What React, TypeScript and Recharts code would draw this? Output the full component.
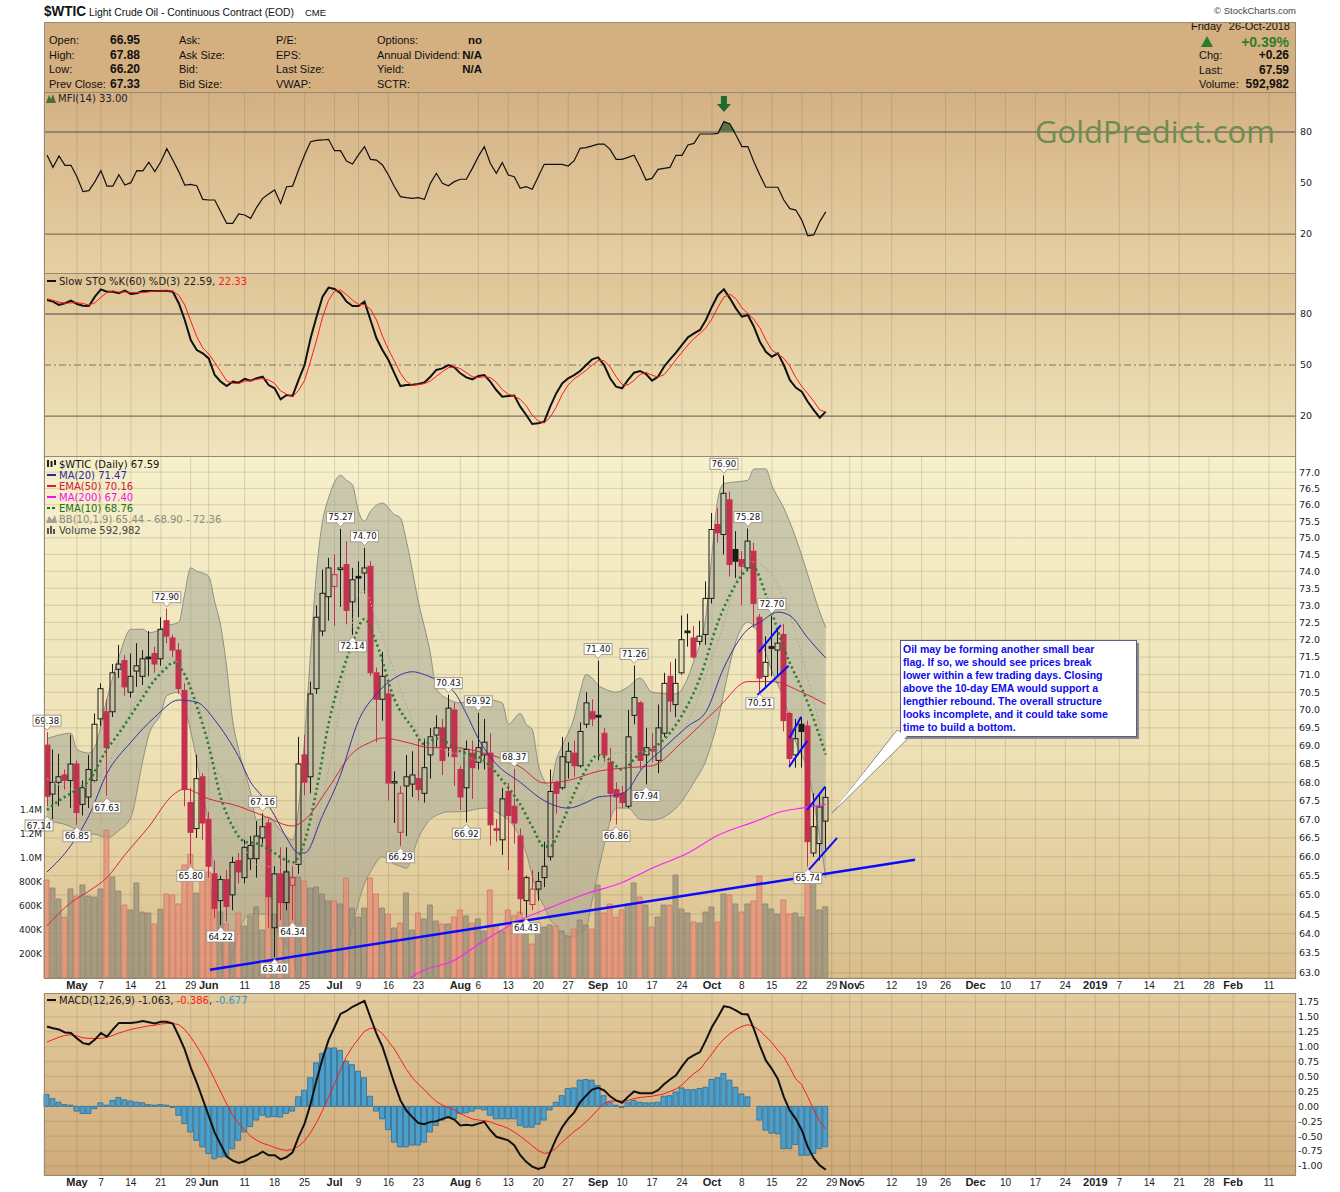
import React from "react";
import {
  ComposedChart,
  Bar,
  Line,
  Area,
  XAxis,
  YAxis,
  CartesianGrid,
  ReferenceLine,
  ReferenceDot,
  Cell,
} from "recharts";

// ---------- data (trading day index 0 = 24-Apr-2018) ----------
const OPEN = [
  69.02, 67.68, 68.0, 68.2, 68.05, 68.5, 67.4, 67.6, 68.05, 69.75,
  69.95, 69.95, 71.15, 71.4, 70.5, 71.1, 70.95, 71.5, 71.6, 71.45,
  72.55, 72.05, 71.7, 70.55, 67.45, 66.75, 68.15, 67.0, 65.55, 64.85,
  65.4, 65.0, 65.9, 65.45, 65.95, 65.95, 66.5, 66.9, 64.15, 65.55,
  64.8, 65.25, 65.8, 68.75, 68.15, 70.6, 72.25, 73.25, 73.55, 74.05,
  74.2, 73.1, 73.85, 73.95, 74.15, 71.05, 70.3, 70.45, 67.98, 66.65,
  67.9, 67.95, 68.1, 67.7, 68.75, 69.3, 69.5, 68.95, 70.0, 68.35,
  67.85, 68.8, 68.55, 68.75, 68.8, 66.75, 66.45, 67.75, 67.35, 66.55,
  64.85, 64.75, 65.15, 65.45, 66.0, 68.0, 67.85, 68.55, 68.8, 68.45,
  69.6, 69.95, 69.85, 69.35, 68.55, 67.8, 67.7, 67.35, 69.85, 70.2,
  68.75, 68.9, 68.6, 69.35, 70.95, 70.15, 71.05, 72.25, 72.05, 71.95,
  72.15, 73.2, 75.4, 75.1, 76.15, 74.65, 74.35, 74.1, 74.6, 72.65,
  70.95, 71.8, 71.7, 72.15, 69.9, 68.75, 69.6, 69.55, 66.1, 66.35,
  66.95,
];
const HIGH = [
  69.38, 68.9, 68.78, 68.35, 69.3, 68.6, 68.05, 68.75, 69.9, 70.75,
  70.3, 71.3, 71.85, 71.55, 71.6, 71.9, 71.7, 72.25, 71.8, 72.65,
  72.9, 72.15, 71.9, 70.75, 67.85, 68.75, 68.25, 67.2, 65.9, 65.5,
  65.65, 66.0, 66.1, 66.45, 66.55, 66.95, 67.16, 67.0, 65.75, 66.25,
  66.25, 65.75, 69.25, 69.3, 70.8, 73.0, 74.05, 74.4, 74.5, 75.27,
  74.9, 74.1, 74.3, 74.7, 74.3, 71.2, 71.65, 70.75, 68.3, 67.9,
  68.75, 68.85, 69.2, 69.2, 69.5, 69.85, 69.75, 70.43, 70.2, 68.45,
  69.15, 69.15, 69.92, 69.75, 69.35, 67.0, 67.85, 67.98, 68.37, 66.75,
  65.5, 65.65, 65.6, 66.4, 68.35, 68.05, 69.25, 69.1, 69.15, 69.65,
  70.5, 70.3, 71.4, 69.5, 68.95, 68.0, 67.9, 70.0, 71.26, 70.25,
  69.5, 69.35, 70.15, 71.05, 71.35, 71.45, 72.7, 72.75, 72.4, 72.55,
  73.7, 75.75, 75.9, 76.9, 76.4, 75.2, 74.6, 75.28, 74.85, 72.75,
  72.1, 72.7, 72.35, 72.45, 69.95, 69.75, 69.8, 69.7, 67.7, 67.65,
  67.88,
];
const LOW = [
  67.35, 67.0, 67.35, 67.8, 67.3, 66.85, 67.1, 67.3, 68.0, 69.55,
  67.63, 69.8, 70.9, 70.4, 70.35, 70.65, 70.7, 70.95, 71.05, 71.25,
  71.9, 71.5, 70.45, 67.35, 65.8, 66.5, 66.45, 65.45, 64.4, 64.22,
  64.3, 64.6, 65.3, 65.3, 65.65, 65.45, 66.35, 64.15, 63.4, 64.35,
  64.6, 64.34, 65.55, 67.65, 67.7, 70.45, 72.1, 72.55, 72.4, 72.95,
  72.45, 72.14, 72.65, 73.35, 70.95, 69.1, 69.7, 67.5, 66.9, 66.29,
  66.55, 67.6, 67.5, 67.45, 68.1, 68.95, 68.2, 68.7, 67.9, 67.25,
  66.92, 67.55, 68.35, 68.35, 66.3, 66.4, 66.05, 65.65, 66.35, 64.5,
  64.43, 64.6, 64.85, 65.2, 65.9, 67.15, 67.8, 68.1, 68.15, 68.4,
  69.5, 69.55, 68.6, 68.55, 66.95, 66.86, 67.3, 67.3, 69.6, 68.35,
  67.94, 68.55, 68.25, 69.25, 69.95, 69.8, 71.0, 71.8, 71.45, 71.85,
  71.85, 73.05, 74.85, 74.5, 73.85, 73.8, 73.0, 74.0, 72.35, 70.51,
  70.6, 70.95, 70.95, 69.4, 68.4, 68.4, 68.4, 65.74, 66.0, 65.9,
  66.2,
];
const CLOSE = [
  67.62, 68.0, 68.15, 68.05, 68.5, 67.18, 67.85, 68.35, 69.6, 70.6,
  68.95, 71.05, 71.3, 70.65, 70.95, 71.25, 71.45, 71.45, 71.3, 72.3,
  72.1, 71.7, 70.6, 67.8, 66.65, 68.1, 66.9, 65.75, 64.65, 65.4,
  64.7, 65.85, 65.6, 66.25, 66.3, 66.55, 66.8, 64.95, 65.55, 64.8,
  65.6, 65.45, 68.5, 68.0, 70.45, 72.65, 73.35, 74.1, 73.9, 74.1,
  72.85, 73.75, 73.8, 74.1, 71.05, 70.3, 70.95, 67.98, 68.02, 67.7,
  68.15, 68.2, 67.8, 68.4, 69.25, 69.5, 68.6, 70.05, 68.7, 67.6,
  68.9, 68.4, 68.95, 69.1, 66.85, 66.7, 67.55, 67.1, 66.9, 64.9,
  65.45, 65.15, 65.35, 65.75, 67.75, 67.7, 68.7, 68.85, 68.45, 69.4,
  70.2, 69.75, 69.8, 68.75, 67.7, 67.6, 67.45, 69.25, 70.35, 68.6,
  68.95, 68.85, 69.5, 70.75, 70.25, 70.75, 72.0, 72.2, 71.5, 72.1,
  73.2, 75.25, 75.15, 76.35, 74.2, 74.3, 74.15, 74.9, 73.05, 70.9,
  71.35, 71.75, 71.9, 69.7, 68.65, 69.2, 69.4, 66.4, 66.8, 67.33,
  67.59,
];
const FIRST_PREV_CLOSE = 68.64;

// volume in thousands of contracts
const VOLUME = [
  817, 750, 658, 508, 742, 683, 775, 683, 675, 742,
  1233, 842, 725, 608, 567, 792, 550, 542, 450, 575,
  700, 692, 617, 942, 1030, 708, 833, 883, 733, 550,
  450, 358, 542, 433, 517, 592, 400, 925, 533, 783,
  892, 842, 842, 808, 750, 758, 700, 642, 642, 617,
  833, 583, 508, 583, 833, 700, 583, 533, 417, 458,
  708, 400, 542, 492, 608, 475, 450, 450, 508, 567,
  517, 458, 492, 392, 733, 433, 392, 567, 517, 550,
  458, 283, 417, 425, 442, 433, 392, 350, 408, 483,
  442, 408, 775, 542, 617, 508, 567, 617, 792, 675,
  608, 425, 508, 608, 608, 858, 575, 542, 467, 458,
  550, 592, 467, 700, 692, 617, 550, 617, 642, 850,
  617, 575, 533, 650, 533, 542, 508, 850, 808, 567,
  593,
];

const MFI = [
  66.5, 59.2, 65.9, 60.4, 60.4, 53.7, 44.9, 45.5, 50.8, 57.3,
  48.2, 48.2, 54.9, 48.8, 50.2, 57.3, 57.1, 62.2, 56.7, 62.5,
  70.2, 63.5, 56.7, 48.8, 49.2, 48.4, 40.4, 40.0, 40.0, 33.1,
  26.3, 26.3, 31.8, 31.2, 29.2, 35.7, 41.0, 43.5, 45.9, 38.0,
  47.8, 48.2, 57.6, 66.5, 74.3, 75.1, 75.3, 75.7, 69.0, 69.0,
  62.9, 61.2, 66.5, 71.4, 63.9, 63.5, 60.6, 54.7, 47.8, 42.0,
  41.4, 41.0, 41.4, 40.4, 49.8, 55.7, 49.8, 48.4, 50.8, 52.2,
  52.2, 58.6, 65.5, 71.4, 61.6, 55.7, 62.0, 54.7, 53.7, 46.9,
  47.8, 46.3, 53.7, 61.0, 61.0, 61.0, 61.0, 60.0, 63.1, 70.4,
  70.8, 71.8, 72.9, 72.9, 69.8, 63.9, 63.9, 65.1, 66.3, 59.6,
  51.8, 52.7, 58.0, 58.6, 59.2, 66.3, 66.3, 72.4, 73.3, 78.8,
  78.8, 78.8, 79.2, 86.1, 84.7, 78.2, 71.4, 71.4, 62.5, 54.7,
  47.5, 47.5, 47.5, 40.0, 34.9, 34.1, 28.2, 19.0, 19.5, 27.3,
  33.0,
];

const STO_K = [
  88.2, 87.3, 85.3, 86.3, 87.8, 85.9, 84.9, 84.7, 90.2, 94.5,
  93.1, 93.1, 92.2, 93.7, 91.8, 92.2, 93.5, 93.5, 93.5, 93.5,
  93.7, 93.1, 86.3, 76.5, 64.7, 58.8, 56.9, 53.9, 44.1, 40.2,
  37.6, 40.2, 39.6, 41.8, 40.8, 42.2, 43.1, 38.2, 36.3, 29.8,
  32.4, 31.8, 41.2, 50.0, 65.7, 78.4, 90.2, 95.5, 94.7, 92.2,
  87.3, 84.7, 84.7, 87.3, 76.5, 65.7, 58.8, 52.9, 45.1, 37.6,
  38.2, 38.4, 38.8, 39.8, 43.1, 47.1, 48.0, 50.0, 48.6, 45.1,
  42.7, 41.6, 43.5, 44.1, 40.2, 35.3, 31.4, 31.8, 32.0, 25.5,
  20.6, 15.3, 15.7, 16.7, 25.5, 33.3, 39.2, 42.2, 44.1, 46.5,
  50.0, 53.3, 54.5, 50.0, 42.2, 37.3, 36.3, 41.2, 45.5, 46.5,
  44.7, 40.8, 43.1, 49.0, 53.3, 57.3, 61.8, 66.3, 68.6, 70.6,
  76.5, 84.3, 91.2, 94.5, 89.2, 83.3, 78.4, 79.4, 72.5, 63.7,
  57.8, 54.9, 56.9, 50.0, 41.2, 36.7, 34.3, 28.4, 23.5, 19.0,
  22.59,
];
const STO_D = [
  89, 88, 87, 86.3, 86.5, 86.7, 86.2, 85.2, 86.6, 89.8,
  92.6, 93.6, 92.8, 93, 92.6, 92.6, 92.5, 93, 93.5, 93.5,
  93.6, 93.4, 91, 85.3, 75.8, 66.7, 60.1, 56.5, 51.6, 46.1,
  40.6, 39.3, 39.1, 40.5, 40.7, 41.6, 42, 41.2, 39.2, 34.8,
  32.8, 31.3, 35.1, 41, 52.3, 64.7, 78.1, 88, 93.5, 94.1,
  91.4, 88.1, 85.6, 85.6, 82.8, 76.5, 67, 59.1, 52.3, 45.2,
  40.3, 38.1, 38.5, 39, 40.6, 43.3, 46.1, 48.4, 48.9, 47.9,
  45.5, 43.1, 42.6, 43.1, 42.6, 39.9, 35.6, 32.8, 31.7, 29.8,
  26, 20.5, 17.2, 15.9, 19.3, 25.2, 32.7, 38.2, 41.8, 44.3,
  46.9, 49.9, 52.6, 52.6, 48.9, 43.2, 38.6, 38.3, 41, 44.4,
  45.6, 44, 42.9, 44.3, 48.5, 53.2, 57.5, 61.8, 65.6, 68.5,
  71.9, 77.1, 84, 90, 91.6, 89, 83.6, 80.4, 76.8, 71.9,
  64.7, 58.8, 56.5, 53.9, 49.4, 42.6, 37.4, 33.1, 28.7, 23.6,
  22.33,
];

const MACD = [
  1.34, 1.31, 1.29, 1.24, 1.23, 1.14, 1.06, 1.04, 1.12, 1.23,
  1.17, 1.29, 1.4, 1.4, 1.4, 1.41, 1.43, 1.41, 1.39, 1.42,
  1.42, 1.39, 1.18, 0.95, 0.65, 0.4, 0.12, -0.16, -0.44, -0.64,
  -0.84, -0.91, -0.95, -0.92, -0.86, -0.82, -0.76, -0.82, -0.82, -0.89,
  -0.85, -0.77, -0.51, -0.29, 0.04, 0.44, 0.8, 1.11, 1.33, 1.55,
  1.6, 1.67, 1.72, 1.77, 1.49, 1.22, 1.0, 0.69, 0.38, 0.1,
  -0.07, -0.18, -0.28, -0.3, -0.26, -0.25, -0.21, -0.18, -0.22, -0.32,
  -0.31, -0.32, -0.29, -0.26, -0.4, -0.51, -0.54, -0.57, -0.65, -0.82,
  -0.93, -1.01, -1.05, -1.02, -0.77, -0.54, -0.35, -0.21, -0.1, 0.07,
  0.18, 0.28, 0.31, 0.27, 0.17, 0.1, 0.06, 0.16, 0.25, 0.22,
  0.22, 0.22, 0.27, 0.37, 0.45, 0.52, 0.67, 0.8, 0.86, 0.91,
  1.11, 1.33, 1.5, 1.68, 1.66, 1.61, 1.55, 1.54, 1.3, 1.02,
  0.77, 0.63, 0.46, 0.16, -0.07, -0.21, -0.4, -0.68, -0.87, -0.99,
  -1.063,
];
const MACD_SIGNAL = [
  1.08, 1.12, 1.16, 1.19, 1.2, 1.18, 1.15, 1.14, 1.14, 1.14,
  1.16, 1.19, 1.23, 1.26, 1.29, 1.31, 1.33, 1.35, 1.36, 1.38,
  1.39, 1.39, 1.37, 1.29, 1.16, 1.01, 0.84, 0.65, 0.45, 0.24,
  0.04, -0.15, -0.29, -0.4, -0.5, -0.57, -0.62, -0.65, -0.69, -0.72,
  -0.74, -0.72, -0.67, -0.58, -0.44, -0.27, -0.07, 0.15, 0.38, 0.61,
  0.84, 1.0, 1.13, 1.26, 1.31, 1.3, 1.22, 1.09, 0.96, 0.79,
  0.62, 0.48, 0.37, 0.28, 0.17, 0.08, 0.02, -0.02, -0.06, -0.12,
  -0.17, -0.21, -0.23, -0.24, -0.26, -0.3, -0.33, -0.37, -0.43, -0.5,
  -0.58, -0.66, -0.74, -0.79, -0.77, -0.7, -0.6, -0.51, -0.42, -0.35,
  -0.26, -0.16, -0.05, 0.05, 0.09, 0.09, 0.09, 0.1, 0.13, 0.15,
  0.16, 0.17, 0.19, 0.21, 0.25, 0.29, 0.36, 0.46, 0.55, 0.62,
  0.75, 0.88, 1.02, 1.13, 1.22, 1.29, 1.34, 1.37, 1.34, 1.27,
  1.17, 1.07, 0.94, 0.83, 0.65, 0.46, 0.36, 0.16, -0.06, -0.25,
  -0.386,
];
const MACD_HIST = [
  0.2, 0.13, 0.07, 0.03, 0.02, -0.08, -0.12, -0.12, -0.04, 0.06,
  0.02, 0.1, 0.15, 0.11, 0.09, 0.07, 0.06, 0.03, 0.02, 0.03,
  0.02, -0.02, -0.15, -0.29, -0.43, -0.57, -0.68, -0.79, -0.88, -0.85,
  -0.84, -0.71, -0.57, -0.43, -0.34, -0.23, -0.15, -0.18, -0.17, -0.18,
  -0.12, -0.08, 0.16, 0.27, 0.48, 0.73, 0.89, 0.98, 0.98, 0.94,
  0.76, 0.7, 0.59, 0.48, 0.17, -0.08, -0.21, -0.39, -0.6, -0.68,
  -0.68, -0.65, -0.65, -0.6, -0.43, -0.32, -0.23, -0.17, -0.21, -0.12,
  -0.11, -0.08, -0.04, -0.06, -0.15, -0.21, -0.21, -0.21, -0.21, -0.32,
  -0.35, -0.35, -0.3, -0.23, -0.06, 0.07, 0.18, 0.3, 0.31, 0.44,
  0.45, 0.44, 0.35, 0.18, 0.07, 0.02, -0.02, 0.07, 0.1, 0.07,
  0.06, 0.06, 0.07, 0.17, 0.18, 0.24, 0.31, 0.28, 0.28, 0.3,
  0.32, 0.45, 0.48, 0.55, 0.44, 0.32, 0.21, 0.16, 0.0, -0.23,
  -0.4, -0.45, -0.46, -0.71, -0.71, -0.64, -0.82, -0.82, -0.79, -0.71,
  -0.677,
];

// overlays sampled every few sessions: [day index, value]
const MA20 = [
  [0, 65.6], [4, 66.3], [7, 67.1], [10, 68.24], [14, 69.1], [18, 69.8], [22, 70.28],
  [25, 70.22], [28, 69.72], [30, 69.25], [32, 68.7], [34, 68.0], [36, 67.6], [38, 67.1],
  [40, 66.5], [42, 66.1], [43, 66.1], [46, 67.1], [49, 68.2], [52, 69.7], [55, 70.45],
  [58, 70.9], [61, 71.08], [63, 71.0], [66, 70.75], [68, 70.5], [70, 69.9], [72, 69.2],
  [75, 68.5], [79, 68.0], [83, 67.5], [87, 67.3], [90, 67.45], [92, 67.6], [95, 67.65],
  [97, 67.8], [99, 68.3], [103, 68.95], [107, 69.55], [110, 69.95], [113, 71.2],
  [117, 72.3], [119, 72.5], [122, 72.8], [124, 72.7], [127, 72.05], [130, 71.47],
];
const EMA50 = [
  [0, 64.2], [4, 64.8], [7, 65.1], [10, 65.45], [13, 66.05], [17, 66.8], [21, 67.65],
  [23, 67.82], [27, 67.55], [32, 67.35], [36, 67.1], [41, 66.82], [43, 66.98], [47, 67.85],
  [51, 68.8], [54, 69.1], [56, 69.22], [60, 69.1], [64, 68.95], [68, 68.95], [73, 68.8],
  [79, 68.42], [83, 67.98], [87, 68.05], [92, 68.3], [97, 68.4], [101, 68.45], [106, 69.1],
  [112, 70.05], [117, 70.8], [121, 70.8], [126, 70.5], [130, 70.16],
];
const MA200 = [
  [60, 62.8], [62, 63.0], [68, 63.32], [73, 63.82], [79, 64.35], [84, 64.67], [90, 65.03],
  [96, 65.32], [101, 65.7], [107, 66.1], [112, 66.57], [118, 66.93], [123, 67.22],
  [126, 67.3], [130, 67.4],
];
const EMA10 = [
  [0, 67.25], [2, 67.5], [5, 67.8], [7, 68.05], [10, 68.9], [12, 69.35], [15, 70.1],
  [18, 70.85], [20, 71.2], [21, 71.35], [23, 71.0], [25, 70.1], [27, 69.0], [29, 67.6],
  [31, 66.8], [33, 66.4], [35, 66.35], [37, 66.2], [40, 65.9], [41, 65.85], [43, 66.4],
  [45, 67.8], [47, 69.6], [49, 70.9], [51, 71.9], [53, 72.6], [55, 71.9], [58, 70.3],
  [61, 69.5], [63, 69.05], [65, 69.2], [69, 68.85], [73, 68.6], [76, 68.05], [79, 67.4],
  [81, 66.8], [83, 66.27], [84, 66.27], [86, 66.9], [88, 67.7], [90, 68.35], [92, 68.75],
  [94, 68.6], [96, 68.35], [99, 68.8], [102, 69.03], [106, 69.85], [109, 70.9],
  [112, 72.5], [114, 73.3], [117, 74.05], [118, 74.1], [120, 73.3], [123, 71.75],
  [127, 70.2], [130, 68.76],
];
// Bollinger band: [day index, lower, upper]
const BB = [
  [0, 66.95, 69.2], [2, 66.9, 69.3], [4, 66.8, 69.35], [5, 66.7, 68.9], [7, 66.6, 68.8],
  [8, 66.6, 68.97], [10, 66.5, 70.3], [12, 66.7, 71.5], [14, 67.05, 72.3], [16, 68.6, 72.3],
  [17, 69.3, 72.2], [19, 69.9, 72.3], [20, 70.4, 72.4], [22, 70.5, 72.5], [23, 70.1, 73.35],
  [24, 69.4, 74.1], [25, 68.6, 74.0], [26, 67.7, 73.95], [27, 66.8, 73.85], [28, 65.3, 73.1],
  [29, 63.6, 72.4], [30, 62.8, 71.2], [31, 63.4, 69.7], [32, 64.05, 68.9], [34, 64.5, 67.7],
  [35, 64.5, 66.98], [37, 64.5, 67.06], [39, 63.9, 66.7], [41, 63.4, 66.45], [42, 62.85, 67.3],
  [43, 62.5, 69.2], [44, 62.3, 71.6], [45, 62.2, 74.0], [46, 62.2, 75.5], [47, 62.2, 76.2],
  [49, 62.6, 76.9], [50, 63.5, 76.75], [51, 64.2, 76.6], [52, 64.8, 75.8], [53, 65.3, 75.5],
  [54, 65.6, 75.8], [56, 66.0, 76.05], [58, 65.8, 75.7], [59, 65.75, 75.6], [60, 65.7, 74.9],
  [62, 66.5, 73.1], [64, 67.0, 71.6], [65, 67.1, 70.6], [67, 67.2, 70.3], [69, 67.2, 70.2],
  [73, 67.3, 70.3], [76, 67.1, 70.2], [77, 66.98, 69.6], [79, 66.5, 69.9], [80, 66.1, 69.6],
  [81, 65.5, 69.45], [82, 65.0, 68.5], [83, 64.7, 68.05], [84, 64.35, 67.9], [85, 64.2, 68.6],
  [86, 64.0, 69.0], [88, 63.9, 69.8], [89, 64.0, 70.5], [90, 64.15, 71.0], [91, 64.85, 70.9],
  [92, 65.6, 70.7], [93, 66.3, 70.6], [95, 67.3, 70.5], [97, 67.3, 70.65], [99, 67.0, 70.9],
  [101, 66.98, 70.5], [105, 67.3, 70.45], [108, 68.0, 71.4], [110, 68.6, 72.7], [111, 69.1, 74.5],
  [112, 69.7, 76.2], [113, 70.5, 76.65], [115, 71.95, 76.7], [117, 72.5, 76.75], [118, 72.4, 77.1],
  [120, 71.6, 77.1], [121, 71.1, 76.6], [123, 70.3, 75.9], [125, 69.1, 75.0], [127, 68.3, 73.9],
  [129, 66.5, 72.8], [130, 65.44, 72.36],
];
const BB_MID = [
  [0, 68.1], [5, 67.8], [10, 68.45], [15, 70.3], [18, 70.9], [21, 71.45], [23, 71.0],
  [25, 70.3], [28, 68.5], [30, 67.8], [32, 66.7], [35, 65.8], [39, 65.72], [41, 65.8],
  [43, 65.9], [46, 67.6], [48, 69.2], [50, 71.3], [52, 73.3], [53, 73.4], [55, 72.55],
  [59, 70.6], [62, 69.35], [66, 68.9], [70, 68.7], [76, 68.15], [80, 67.0], [84, 66.45],
  [87, 66.8], [91, 68.05], [95, 68.8], [101, 68.85], [106, 69.4], [112, 71.95], [117, 74.3],
  [120, 74.1], [123, 73.2], [127, 70.9], [130, 68.9],
];

// swing labels: [day index, price, below?]
const PRICE_TAGS = [
  [0, 69.38, 0], [0, 67.14, 1], [5, 66.85, 1], [10, 67.63, 1], [20, 72.9, 0], [24, 65.8, 1],
  [29, 64.22, 1], [36, 67.16, 0], [38, 63.4, 1], [41, 64.34, 1], [49, 75.27, 0], [53, 74.7, 0],
  [51, 72.14, 1], [59, 66.29, 1], [67, 70.43, 0], [72, 69.92, 0], [70, 66.92, 1], [78, 68.37, 0],
  [80, 64.43, 1], [92, 71.4, 0], [98, 71.26, 0], [95, 66.86, 1], [100, 67.94, 1], [113, 76.9, 0],
  [117, 75.28, 0], [121, 72.7, 0], [119, 70.51, 1], [127, 65.74, 1],
];
// hand-drawn trend lines: [from day, from price, to day, to price, width]
const TRENDLINES = [
  [27.2, 63.08, 144.9, 65.92, 2.5],
  [118.8, 71.64, 122.5, 72.42, 2],
  [118.6, 70.42, 123.8, 71.25, 2],
  [123.9, 69.21, 125.9, 69.81, 2],
  [123.9, 68.43, 126.9, 69.14, 2],
  [126.9, 67.25, 129.9, 67.88, 2],
  [126.9, 65.61, 131.9, 66.5, 2],
];

const TICK_IDX = [
  5, 9, 14, 19, 24, 27, 33, 38, 43, 48, 52, 57, 62, 69, 72, 77, 82, 87, 92, 96, 101, 106,
  111, 116, 121, 126, 131, 134, 136, 141, 146, 150, 155, 160, 165, 170, 175, 179, 184, 189,
  194, 198, 204,
];
const TICK_LABEL = [
  "May", "7", "14", "21", "29", "Jun", "11", "18", "25", "Jul", "9", "16", "23", "Aug", "6",
  "13", "20", "27", "Sep", "10", "17", "24", "Oct", "8", "15", "22", "29", "Nov", "5", "12",
  "19", "26", "Dec", "10", "17", "24", "2019", "7", "14", "21", "28", "Feb", "11",
];
const MONTHS = ["May", "Jun", "Jul", "Aug", "Sep", "Oct", "Nov", "Dec", "2019", "Feb"];
const PRICE_TICKS = [
  63, 63.5, 64, 64.5, 65, 65.5, 66, 66.5, 67, 67.5, 68, 68.5, 69, 69.5, 70, 70.5, 71, 71.5,
  72, 72.5, 73, 73.5, 74, 74.5, 75, 75.5, 76, 76.5, 77,
];
const VOL_TICKS = [200000, 400000, 600000, 800000, 1000000, 1200000, 1400000];
const OSC_TICKS = [20, 50, 80];
const MACD_TICKS = [-1, -0.75, -0.5, -0.25, 0, 0.25, 0.5, 0.75, 1, 1.25, 1.5, 1.75];

// ---------- table ----------
const rows: any[] = CLOSE.map((c, i) => ({
  i,
  o: OPEN[i],
  h: HIGH[i],
  l: LOW[i],
  c,
  down: c < (i === 0 ? FIRST_PREV_CLOSE : CLOSE[i - 1]),
  vol: VOLUME[i] * 1000,
  mfi: MFI[i],
  k: STO_K[i],
  d: STO_D[i],
  macd: MACD[i],
  sig: MACD_SIGNAL[i],
  hist: MACD_HIST[i],
}));
MA20.forEach(([i, v]) => (rows[i].ma20 = v));
EMA50.forEach(([i, v]) => (rows[i].ema50 = v));
MA200.forEach(([i, v]) => (rows[i].ma200 = v));
EMA10.forEach(([i, v]) => (rows[i].ema10 = v));
BB_MID.forEach(([i, v]) => (rows[i].bbMid = v));
BB.forEach(([i, lo, up]) => (rows[i].bb = [lo, up]));
rows.forEach((r, i) => {
  const near = [rows[i - 1], r, rows[i + 1]].some((x) => x && x.mfi > 80);
  if (near) r.mfiOver = [80, Math.max(r.mfi, 80)];
});

const FONT = "'DejaVu Sans', Verdana, sans-serif";
const ARIAL = "'Liberation Sans', Arial, sans-serif";
const X_DOMAIN = [-0.5, 208.5];
const RED = "#c4314f";
const INK = "#1b1b1b";
const GRID = "rgba(110, 90, 50, 0.2)";
const TICK_STYLE = { fontSize: 9.5, fontFamily: FONT, fill: "#222" };

const DateTick = ({ x, y, payload }: any) => {
  const label = TICK_LABEL[TICK_IDX.indexOf(payload.value)];
  const bold = MONTHS.includes(label);
  return (
    <text
      x={x}
      y={y + 11}
      textAnchor="middle"
      fontFamily={ARIAL}
      fontSize={bold ? 11 : 10}
      fontWeight={bold ? 700 : 400}
      fill="#222"
    >
      {label}
    </text>
  );
};

const Candle = (props: any) => {
  const { x, y, width, height, payload } = props;
  if (!payload || !isFinite(y) || !isFinite(height)) return null;
  const top = Math.min(y, y + height);
  const bot = Math.max(y, y + height);
  const lh = Math.log(payload.h);
  const ll = Math.log(payload.l);
  const py = (v: number) => top + ((bot - top) * (lh - Math.log(v))) / (lh - ll || 1);
  const cx = Math.round(x + width / 2) + 0.5;
  const color = payload.down ? RED : INK;
  const filled = payload.c < payload.o;
  const bTop = py(Math.max(payload.o, payload.c));
  const bh = Math.max(py(Math.min(payload.o, payload.c)) - bTop, 1);
  return (
    <g>
      <line x1={cx} x2={cx} y1={top} y2={bTop} stroke={color} strokeWidth={1} />
      <line x1={cx} x2={cx} y1={bTop + bh} y2={bot} stroke={color} strokeWidth={1} />
      <rect
        x={cx - 2.5}
        y={bTop}
        width={5}
        height={bh}
        fill={filled ? color : "none"}
        stroke={color}
        strokeWidth={1}
      />
    </g>
  );
};

const PriceTag = ({ cx, cy, text, below, dx }: any) => {
  const w = 28;
  const h = 11;
  const tip = below ? cy + 2 : cy - 2;
  const boxY = below ? tip + 4 : tip - 4 - h;
  const bx = cx + dx - w / 2;
  const d = below
    ? `M${cx - 4},${tip + 4.5} L${cx},${tip} L${cx + 4},${tip + 4.5}`
    : `M${cx - 4},${tip - 4.5} L${cx},${tip} L${cx + 4},${tip - 4.5}`;
  return (
    <g>
      <rect x={bx} y={boxY} width={w} height={h} fill="#fff" stroke="#a8998a" strokeWidth={1} />
      <path d={d} fill="#fff" stroke="#a8998a" strokeWidth={1} />
      <text
        x={bx + w / 2}
        y={boxY + 8.6}
        textAnchor="middle"
        fontSize={8.6}
        fontFamily={FONT}
        fill="#111"
      >
        {text}
      </text>
    </g>
  );
};

const GreenArrow = ({ cx, cy }: any) => (
  <path
    d={`M${cx - 3},${cy - 8} L${cx + 3},${cy - 8} L${cx + 3},${cy} L${cx + 7},${cy} L${cx},${cy + 8} L${cx - 7},${cy} L${cx - 3},${cy} Z`}
    fill="#1d6b30"
  />
);

function MfiPanel() {
  return (
    <ComposedChart width={1340} height={181} data={rows} margin={{ top: 0, right: 0, bottom: 0, left: 44 }}>
      <CartesianGrid xAxisId="x" yAxisId="y" horizontal={false} stroke={GRID} />
      <XAxis xAxisId="x" dataKey="i" type="number" domain={X_DOMAIN} ticks={TICK_IDX} hide />
      <YAxis
        yAxisId="y"
        orientation="right"
        width={44}
        domain={[-2.9, 103.5]}
        ticks={OSC_TICKS}
        interval={0}
        tickLine={false}
        axisLine={false}
        tickSize={0}
        tickMargin={4}
        tick={TICK_STYLE}
      />
      <ReferenceLine xAxisId="x" yAxisId="y" y={80} stroke="#7a7468" strokeWidth={1.3} />
      <ReferenceLine xAxisId="x" yAxisId="y" y={20} stroke="#7a7468" strokeWidth={1.3} />
      <Area
        xAxisId="x"
        yAxisId="y"
        dataKey="mfiOver"
        stroke="none"
        fill="#4d6b3a"
        fillOpacity={0.9}
        isAnimationActive={false}
      />
      <Line
        xAxisId="x"
        yAxisId="y"
        dataKey="mfi"
        stroke="#111"
        strokeWidth={1.2}
        dot={false}
        isAnimationActive={false}
      />
      <ReferenceDot xAxisId="x" yAxisId="y" x={113} y={96.5} r={0} ifOverflow="visible" shape={GreenArrow} />
    </ComposedChart>
  );
}

function StoPanel() {
  return (
    <ComposedChart width={1340} height={183} data={rows} margin={{ top: 0, right: 0, bottom: 0, left: 44 }}>
      <CartesianGrid xAxisId="x" yAxisId="y" horizontal={false} stroke={GRID} />
      <XAxis xAxisId="x" dataKey="i" type="number" domain={X_DOMAIN} ticks={TICK_IDX} hide />
      <YAxis
        yAxisId="y"
        orientation="right"
        width={44}
        domain={[-3.5, 104.1]}
        ticks={OSC_TICKS}
        interval={0}
        tickLine={false}
        axisLine={false}
        tickSize={0}
        tickMargin={4}
        tick={TICK_STYLE}
      />
      <ReferenceLine xAxisId="x" yAxisId="y" y={80} stroke="#7a7468" strokeWidth={1.3} />
      <ReferenceLine xAxisId="x" yAxisId="y" y={50} stroke="#7a7468" strokeWidth={1.2} strokeDasharray="7 3 2 3" />
      <ReferenceLine xAxisId="x" yAxisId="y" y={20} stroke="#7a7468" strokeWidth={1.3} />
      <Line xAxisId="x" yAxisId="y" dataKey="k" stroke="#111" strokeWidth={2} dot={false} isAnimationActive={false} />
      <Line xAxisId="x" yAxisId="y" dataKey="d" stroke="#ff1a1a" strokeWidth={1} dot={false} isAnimationActive={false} />
    </ComposedChart>
  );
}

function PricePanel() {
  return (
    <ComposedChart width={1340} height={537} data={rows} margin={{ top: 0, right: 0, bottom: 0, left: 18 }}>
      <CartesianGrid xAxisId="p" yAxisId="price" stroke={GRID} />
      <XAxis
        xAxisId="p"
        dataKey="i"
        type="number"
        domain={X_DOMAIN}
        ticks={TICK_IDX}
        interval={0}
        height={15}
        tickLine={false}
        axisLine={false}
        tickSize={0}
        tickMargin={0}
        tick={<DateTick />}
      />
      <XAxis xAxisId="v" dataKey="i" type="number" domain={X_DOMAIN} hide />
      <YAxis
        yAxisId="vol"
        orientation="left"
        width={26}
        domain={[0, 4350000]}
        ticks={VOL_TICKS}
        interval={0}
        tickLine={false}
        axisLine={false}
        tickSize={0}
        tickMargin={2}
        tick={{ ...TICK_STYLE, fontSize: 9 }}
        tickFormatter={(v: number) => (v >= 1000000 ? `${(v / 1000000).toFixed(1)}M` : `${v / 1000}K`)}
      />
      <YAxis
        yAxisId="price"
        orientation="right"
        width={44}
        scale="log"
        type="number"
        domain={[62.87, 77.5]}
        allowDataOverflow
        ticks={PRICE_TICKS}
        interval={0}
        tickLine={false}
        axisLine={false}
        tickSize={0}
        tickMargin={3}
        tick={TICK_STYLE}
        tickFormatter={(v: number) => v.toFixed(1)}
      />
      <Bar xAxisId="v" yAxisId="vol" dataKey="vol" barSize={5} isAnimationActive={false}>
        {rows.map((r) => (
          <Cell
            key={r.i}
            fill={r.down ? "rgba(232,138,118,0.72)" : "rgba(150,142,122,0.72)"}
            stroke={r.down ? "#c97a68" : "#8b8370"}
            strokeWidth={0.8}
          />
        ))}
      </Bar>
      <Area
        xAxisId="p"
        yAxisId="price"
        type="monotone"
        dataKey="bb"
        connectNulls
        stroke="#8e9086"
        strokeWidth={1}
        fill="#9ea192"
        fillOpacity={0.5}
        isAnimationActive={false}
      />
      <Line xAxisId="p" yAxisId="price" type="monotone" dataKey="bbMid" connectNulls stroke="#a9a9a1" strokeWidth={1} strokeDasharray="2 2" dot={false} isAnimationActive={false} />
      <Line xAxisId="p" yAxisId="price" type="monotone" dataKey="ma200" connectNulls stroke="#ff1eff" strokeWidth={1.1} dot={false} isAnimationActive={false} />
      <Line xAxisId="p" yAxisId="price" type="monotone" dataKey="ema50" connectNulls stroke="#d3263c" strokeWidth={1} dot={false} isAnimationActive={false} />
      <Line xAxisId="p" yAxisId="price" type="monotone" dataKey="ma20" connectNulls stroke="#3232a6" strokeWidth={1} dot={false} isAnimationActive={false} />
      <Line xAxisId="p" yAxisId="price" type="monotone" dataKey="ema10" connectNulls stroke="#2d7a30" strokeWidth={2.6} strokeDasharray="2.2 3" dot={false} isAnimationActive={false} />
      <Bar
        xAxisId="p"
        yAxisId="price"
        dataKey={(r: any) => [r.l, r.h]}
        barSize={5}
        shape={<Candle />}
        isAnimationActive={false}
      />
      {TRENDLINES.map(([x1, y1, x2, y2, w], n) => (
        <ReferenceLine
          key={`t${n}`}
          xAxisId="p"
          yAxisId="price"
          segment={[{ x: x1, y: y1 }, { x: x2, y: y2 }]}
          stroke="#0a0aff"
          strokeWidth={w}
          ifOverflow="visible"
        />
      ))}
      {PRICE_TAGS.map(([i, p, below], n) => (
        <ReferenceDot
          key={`l${n}`}
          xAxisId="p"
          yAxisId="price"
          x={i}
          y={p}
          r={0}
          ifOverflow="visible"
          shape={(props: any) => (
            <PriceTag {...props} text={p.toFixed(2)} below={below === 1} dx={i === 0 && below ? -8 : 0} />
          )}
        />
      ))}
    </ComposedChart>
  );
}

function MacdPanel() {
  return (
    <ComposedChart width={1340} height={199} data={rows} margin={{ top: 0, right: 0, bottom: 0, left: 44 }}>
      <CartesianGrid xAxisId="x" yAxisId="y" stroke={GRID} />
      <XAxis
        xAxisId="x"
        dataKey="i"
        type="number"
        domain={X_DOMAIN}
        ticks={TICK_IDX}
        interval={0}
        height={17}
        tickLine={false}
        axisLine={false}
        tickSize={0}
        tickMargin={0}
        tick={<DateTick />}
      />
      <YAxis
        yAxisId="y"
        orientation="right"
        width={44}
        domain={[-1.151, 1.901]}
        ticks={MACD_TICKS}
        interval={0}
        tickLine={false}
        axisLine={false}
        tickSize={0}
        tickMargin={2}
        tick={TICK_STYLE}
        tickFormatter={(v: number) => v.toFixed(2)}
      />
      <Bar xAxisId="x" yAxisId="y" dataKey="hist" barSize={5} fill="#4c9fcb" stroke="#2b6d95" strokeWidth={0.8} isAnimationActive={false} />
      <Line xAxisId="x" yAxisId="y" dataKey="sig" stroke="#ff1a1a" strokeWidth={1} dot={false} isAnimationActive={false} />
      <Line xAxisId="x" yAxisId="y" dataKey="macd" stroke="#111" strokeWidth={2} dot={false} isAnimationActive={false} />
    </ComposedChart>
  );
}

const T = ({ x, y, s = 11, b = false, c = "#111", a = "start", f = ARIAL, len, children }: any) => (
  <text
    x={x}
    y={y}
    fontSize={s}
    fontWeight={b ? 700 : 400}
    fill={c}
    textAnchor={a}
    fontFamily={f}
    textLength={len}
    lengthAdjust={len ? "spacingAndGlyphs" : undefined}
  >
    {children}
  </text>
);

function Overlay() {
  const info = [
    ["Open:", "66.95", "Ask:", "P/E:", "Options:", "no"],
    ["High:", "67.88", "Ask Size:", "EPS:", "Annual Dividend:", "N/A"],
    ["Low:", "66.20", "Bid:", "Last Size:", "Yield:", "N/A"],
    ["Prev Close:", "67.33", "Bid Size:", "VWAP:", "SCTR:", ""],
  ];
  const legend = [
    ["$WTIC (Daily) 67.59", "#111", "candle"],
    ["MA(20) 71.47", "#2a2aa0", "line"],
    ["EMA(50) 70.16", "#d0203a", "line"],
    ["MA(200) 67.40", "#f010f0", "line"],
    ["EMA(10) 68.76", "#1f6e22", "dash"],
    ["BB(10,1.9) 65.44 - 68.90 - 72.36", "#8b8b82", "mount"],
    ["Volume 592,982", "#444", "bars"],
  ];
  const note = [
    "Oil may be forming another small bear",
    "flag. If so, we should see prices break",
    "lower within a few trading days. Closing",
    "above the 10-day EMA would support a",
    "lengthier rebound. The overall structure",
    "looks incomplete, and it could take some",
    "time to build a bottom.",
  ];
  return (
    <svg width={1340} height={1192} style={{ position: "absolute", left: 0, top: 0, pointerEvents: "none" }}>
      {/* title */}
      <T x={44} y={16} s={14} b len={42}>$WTIC</T>
      <T x={89} y={16} s={11} len={205}>Light Crude Oil - Continuous Contract (EOD)</T>
      <T x={305} y={16} s={9} len={21}>CME</T>
      <T x={1296} y={14} s={9.5} c="#444" a="end">© StockCharts.com</T>
      {/* info box */}
      {info.map((r, n) => {
        const y = 44 + n * 14.6;
        return (
          <g key={n}>
            <T x={49} y={y}>{r[0]}</T>
            <T x={110} y={y} s={12} b>{r[1]}</T>
            <T x={179} y={y}>{r[2]}</T>
            <T x={276} y={y}>{r[3]}</T>
            <T x={377} y={y}>{r[4]}</T>
            <T x={482} y={y} s={11.5} b a="end">{r[5]}</T>
          </g>
        );
      })}
      <T x={1191} y={30}>Friday</T>
      <T x={1290} y={30} a="end">26-Oct-2018</T>
      <path d="M1201,47 L1213,47 L1207,36 Z" fill="#2c7a2c" />
      <T x={1289} y={46.5} s={14} b c="#2f7d2f" a="end">+0.39%</T>
      <T x={1199} y={59}>Chg:</T>
      <T x={1289} y={59} s={12} b a="end">+0.26</T>
      <T x={1199} y={73.5}>Last:</T>
      <T x={1289} y={73.5} s={12} b a="end">67.59</T>
      <T x={1199} y={88}>Volume:</T>
      <T x={1289} y={88} s={12} b a="end">592,982</T>

      {/* panel frames */}
      <rect x={44.5} y={22.5} width={1251} height={70} fill="none" stroke="#988a72" />
      <rect x={44.5} y={92.5} width={1251} height={181} fill="none" stroke="#988a72" />
      <rect x={44.5} y={273.5} width={1251} height={183} fill="none" stroke="#988a72" />
      <rect x={44.5} y={456.5} width={1251} height={522} fill="none" stroke="#988a72" />
      <rect x={44.5} y={993.5} width={1251} height={182} fill="none" stroke="#988a72" />

      {/* watermark */}
      <text x={1035} y={143} fontSize={31} fontFamily="'Open Sans', 'DejaVu Sans', sans-serif" fill="#6d8d4b" textLength={240} lengthAdjust="spacingAndGlyphs">
        GoldPredict.com
      </text>

      {/* MFI label */}
      <path d="M46,103 L49,95 L51,99 L53,94 L56,103 Z" fill="#4d6b3a" />
      <T x={58} y={102} s={10} f={FONT} c="#222">MFI(14) 33.00</T>
      {/* STO label */}
      <line x1={47} x2={56} y1={281} y2={281} stroke="#111" strokeWidth={2} />
      <text x={59} y={285} fontSize={10} fontFamily={FONT} fill="#222">
        Slow STO %K(60) %D(3) 22.59, <tspan fill="#ff1a1a">22.33</tspan>
      </text>
      {/* price legend */}
      {legend.map(([txt, col, kind], n) => {
        const cy = 464 + n * 11;
        return (
          <g key={n}>
            {kind === "candle" && (
              <g fill="#222">
                <rect x={47} y={cy - 4} width={2} height={7} />
                <rect x={50.5} y={cy - 3} width={2} height={6} />
                <rect x={54} y={cy - 4} width={2} height={5} />
              </g>
            )}
            {kind === "line" && <line x1={47} x2={56} y1={cy} y2={cy} stroke={col} strokeWidth={2} />}
            {kind === "dash" && <line x1={47} x2={57} y1={cy} y2={cy} stroke={col} strokeWidth={2} strokeDasharray="3 2" />}
            {kind === "mount" && <path d={`M46,${cy + 4} L49,${cy - 3} L52,${cy + 1} L55,${cy - 4} L57,${cy + 4} Z`} fill="#9ea192" />}
            {kind === "bars" && (
              <g fill="#555">
                <rect x={47} y={cy - 2} width={2} height={6} />
                <rect x={50} y={cy - 4} width={2} height={8} />
                <rect x={53} y={cy - 1} width={2} height={5} />
              </g>
            )}
            <T x={59} y={cy + 4} s={10} f={FONT} c={col}>{txt}</T>
          </g>
        );
      })}
      {/* MACD label */}
      <line x1={47} x2={56} y1={1000} y2={1000} stroke="#111" strokeWidth={2} />
      <text x={59} y={1004} fontSize={10} fontFamily={FONT} fill="#222">
        MACD(12,26,9) -1.063, <tspan fill="#ff1a1a">-0.386</tspan>, <tspan fill="#3399cc">-0.677</tspan>
      </text>

      {/* annotation */}
      <polygon points="897,730 909,737.5 832,813" fill="#fff" stroke="#8a8a8a" strokeWidth={1} />
      <rect x={903} y={643} width={236} height={96} fill="#8a8a8a" />
      <rect x={900.5} y={640.5} width={236} height={96} fill="#fff" stroke="#5a5a8a" strokeWidth={1} />
      <polygon points="898,731 907,736 833,811" fill="#fff" />
      {note.map((line, n) => (
        <T key={n} x={903} y={653 + n * 13} s={10.5} b c="#0b0bf0">{line}</T>
      ))}
    </svg>
  );
}

export default function App() {
  const bg = (top: number, h: number, background: string) => (
    <div style={{ position: "absolute", left: 44, top, width: 1252, height: h, background }} />
  );
  return (
    <div
      style={{
        position: "absolute",
        left: 0,
        top: 0,
        width: 1340,
        height: 1192,
        background: "#fff",
        overflow: "hidden",
        fontFamily: ARIAL,
      }}
    >
      {bg(22, 70, "#d4af80")}
      {bg(92, 181, "linear-gradient(#d4b185, #e6d0a3)")}
      {bg(273, 183, "linear-gradient(#dfc597, #f0e4bc)")}
      {bg(456, 522, "linear-gradient(#f6f0cb 0%, #eee2b7 55%, #d9bd8b 100%)")}
      {bg(993, 182, "linear-gradient(#e3cb9e, #cfab7a)")}
      <div style={{ position: "absolute", left: 0, top: 92 }}>
        <MfiPanel />
      </div>
      <div style={{ position: "absolute", left: 0, top: 273 }}>
        <StoPanel />
      </div>
      <div style={{ position: "absolute", left: 0, top: 456 }}>
        <PricePanel />
      </div>
      <div style={{ position: "absolute", left: 0, top: 993 }}>
        <MacdPanel />
      </div>
      <Overlay />
    </div>
  );
}
